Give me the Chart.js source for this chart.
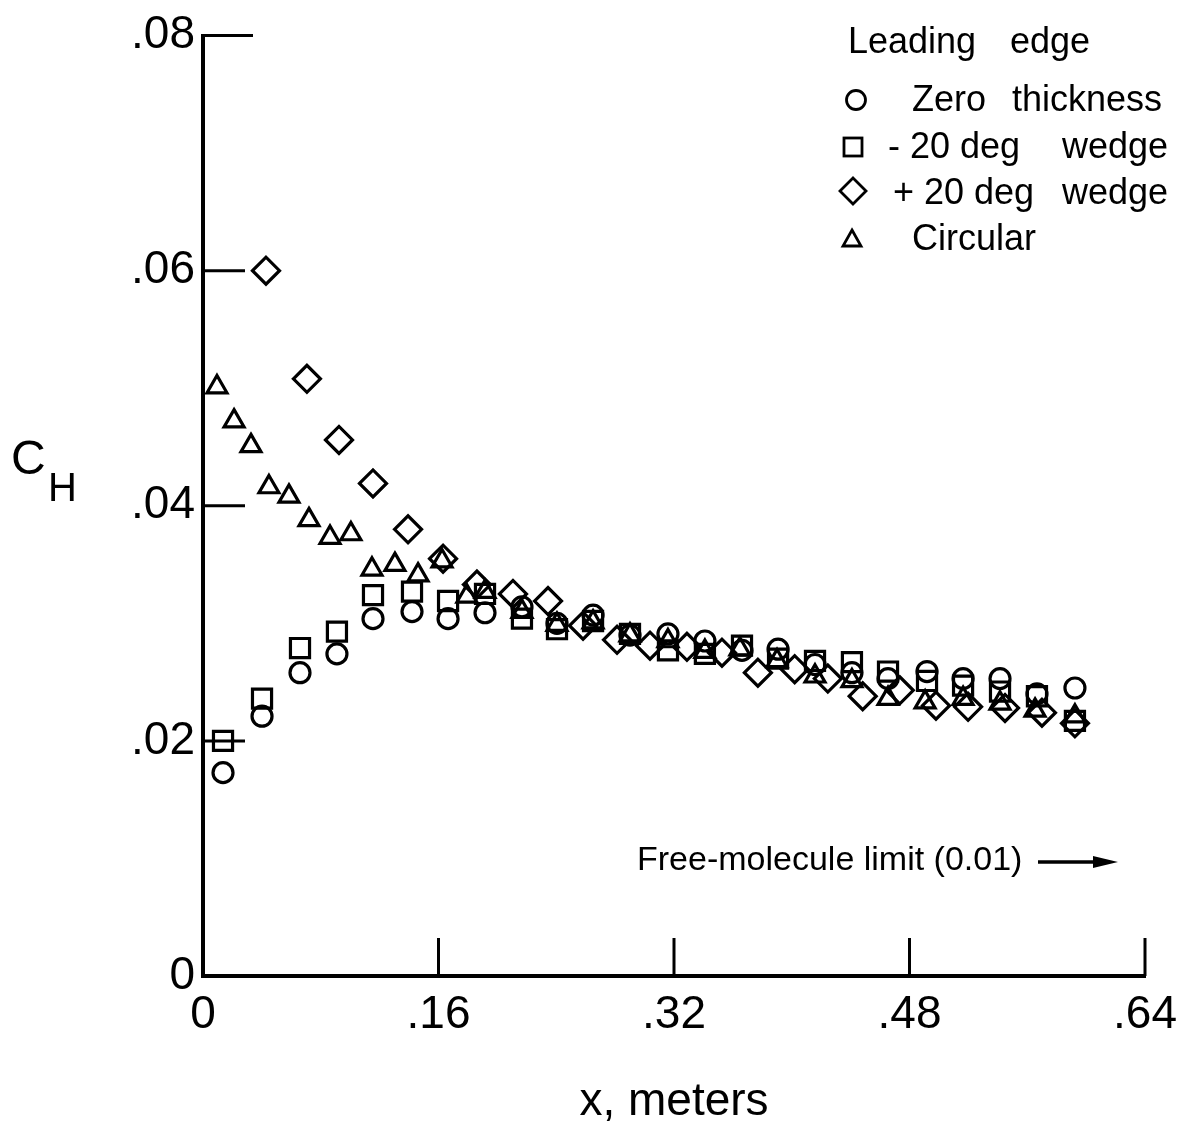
<!DOCTYPE html>
<html>
<head>
<meta charset="utf-8">
<script src="https://cdn.jsdelivr.net/npm/chart.js@4/dist/chart.umd.min.js"></script>
<style>
  html, body { margin: 0; padding: 0; background: #fff; }
  #c { display: block; }
</style>
</head>
<body>
<canvas id="c" width="1191" height="1129"></canvas>
<script>
// Axis ticks
const xTicks = [0, 0.16, 0.32, 0.48, 0.64];
const yTicks = [0, 0.02, 0.04, 0.06, 0.08];

// Legend
const legendTitle = ['Leading', 'edge'];
const seriesNames = ['Zero  thickness', '- 20 deg  wedge', '+ 20 deg  wedge', 'Circular'];

// Zero-thickness leading edge (circles)
const zeroX = [0.0136, 0.0401, 0.0659, 0.0910, 0.1155, 0.1420, 0.1665, 0.1916, 0.2167, 0.2405, 0.2650, 0.2901,
               0.3159, 0.3410, 0.3662, 0.3907, 0.4158, 0.4409, 0.4654, 0.4919, 0.5164, 0.5415, 0.5666, 0.5924];
const zeroY = [0.0173, 0.0221, 0.0258, 0.0274, 0.0304, 0.0310, 0.0304, 0.0309, 0.0314, 0.0300, 0.0307, 0.0290,
               0.0291, 0.0285, 0.0277, 0.0278, 0.0265, 0.0258, 0.0253, 0.0259, 0.0253, 0.0253, 0.0240, 0.0245];

// -20 deg wedge (squares)
const minusX = zeroX;
const minusY = [0.0200, 0.0236, 0.0279, 0.0293, 0.0324, 0.0327, 0.0319, 0.0325, 0.0304, 0.0295, 0.0302, 0.0291,
                0.0277, 0.0274, 0.0281, 0.0270, 0.0268, 0.0267, 0.0259, 0.0251, 0.0247, 0.0242, 0.0238, 0.0217];

// +20 deg wedge (diamonds)
const plusX = [0.0428, 0.0706, 0.0924, 0.1155, 0.1393, 0.1631, 0.1861, 0.2106, 0.2344, 0.2582, 0.2813, 0.3037,
               0.3288, 0.3526, 0.3770, 0.4020, 0.4245, 0.4482, 0.4734, 0.4980, 0.5198, 0.5449, 0.5700, 0.5924];
const plusY = [0.0600, 0.0508, 0.0456, 0.0419, 0.0380, 0.0355, 0.0333, 0.0325, 0.0319, 0.0298, 0.0286, 0.0281,
               0.0280, 0.0275, 0.0258, 0.0261, 0.0253, 0.0238, 0.0243, 0.0230, 0.0229, 0.0228, 0.0224, 0.0215];

// Circular leading edge (triangles)
const circX = [0.0095, 0.0211, 0.0326, 0.0448, 0.0584, 0.0720, 0.0863, 0.1005, 0.1148, 0.1304, 0.1461, 0.1624,
               0.1793, 0.1916, 0.2167, 0.2405, 0.2650, 0.2901, 0.3159, 0.3410, 0.3648, 0.3900, 0.4158, 0.4409,
               0.4654, 0.4906, 0.5164, 0.5415, 0.5653, 0.5924];
const circY = [0.0501, 0.0472, 0.0451, 0.0416, 0.0408, 0.0388, 0.0373, 0.0376, 0.0346, 0.0350, 0.0341, 0.0353,
               0.0323, 0.0327, 0.0310, 0.0299, 0.0301, 0.0290, 0.0285, 0.0276, 0.0278, 0.0268, 0.0255, 0.0251,
               0.0236, 0.0233, 0.0236, 0.0232, 0.0226, 0.0221];

const FONT = "'Liberation Sans', Arial, Helvetica, sans-serif";
const INK = '#000';

const pts = (xs, ys) => xs.map((x, i) => ({ x, y: ys[i] }));

function tickText(v) {
  if (Math.abs(v) < 1e-9) return '0';
  return v.toFixed(2).replace(/^0/, '');
}

// Inward tick marks, axis titles, legend and the free-molecule note
const decorations = {
  id: 'decorations',
  afterDraw(chart) {
    const ctx = chart.ctx;
    const xs = chart.scales.x, ys = chart.scales.y;
    const area = chart.chartArea;
    ctx.save();
    ctx.strokeStyle = INK;
    ctx.fillStyle = INK;
    ctx.lineCap = 'butt';

    // inward ticks
    ctx.lineWidth = 3;
    yTicks.forEach(v => {
      if (v === 0) return;
      const py = ys.getPixelForValue(v);
      const len = v === 0.08 ? 50 : 42;
      ctx.beginPath(); ctx.moveTo(area.left, py); ctx.lineTo(area.left + len, py); ctx.stroke();
    });
    xTicks.forEach(v => {
      if (v === 0) return;
      const px = xs.getPixelForValue(v);
      ctx.beginPath(); ctx.moveTo(px, area.bottom); ctx.lineTo(px, area.bottom - 38); ctx.stroke();
    });

    // axis titles
    ctx.textBaseline = 'middle';
    ctx.textAlign = 'center';
    ctx.font = `46px ${FONT}`;
    ctx.fillText('x, meters', (area.left + area.right) / 2, 1102);
    ctx.textAlign = 'left';
    ctx.font = `48px ${FONT}`;
    ctx.fillText('C', 11, 461);
    ctx.font = `40px ${FONT}`;
    ctx.fillText('H', 48, 490);

    // legend
    ctx.font = `36px ${FONT}`;
    ctx.textAlign = 'left';
    ctx.fillText(legendTitle[0], 848, 43);
    ctx.textAlign = 'right';
    ctx.fillText(legendTitle[1], 1090, 43);
    const rows = [101, 148, 194, 240];
    const parts = seriesNames.map(s => s.split('  '));
    const starts = [912, 888, 893, 912];
    rows.forEach((ry, i) => {
      ctx.textAlign = 'left';
      ctx.fillText(parts[i][0], starts[i], ry);
      if (parts[i][1]) {
        ctx.textAlign = 'right';
        ctx.fillText(parts[i][1], i === 0 ? 1162 : 1168, ry);
      }
    });
    ctx.lineWidth = 2.8;
    // circle
    ctx.beginPath(); ctx.arc(856, 100, 9.5, 0, Math.PI * 2); ctx.stroke();
    // square
    ctx.strokeRect(844, 138, 18, 18);
    // diamond
    ctx.beginPath();
    ctx.moveTo(853, 178); ctx.lineTo(866, 191); ctx.lineTo(853, 204); ctx.lineTo(840, 191); ctx.closePath();
    ctx.stroke();
    // triangle
    ctx.beginPath();
    ctx.moveTo(852, 230); ctx.lineTo(861, 246); ctx.lineTo(843, 246); ctx.closePath(); ctx.stroke();

    // free-molecule note
    ctx.font = `34px ${FONT}`;
    ctx.textAlign = 'left';
    ctx.fillText('Free-molecule limit (0.01)', 637, 861);
    ctx.lineWidth = 3.5;
    ctx.beginPath(); ctx.moveTo(1038, 862); ctx.lineTo(1098, 862); ctx.stroke();
    ctx.beginPath();
    ctx.moveTo(1118, 862); ctx.lineTo(1093, 856); ctx.lineTo(1093, 868); ctx.closePath(); ctx.fill();

    ctx.restore();
  }
};

const marker = (label, data, style, radius) => ({
  label, data,
  pointStyle: style,
  pointRadius: radius,
  pointHoverRadius: radius,
  pointBorderWidth: 3.2,
  pointBorderColor: INK,
  pointBackgroundColor: 'rgba(0,0,0,0)',
  showLine: false
});

new Chart(document.getElementById('c'), {
  type: 'scatter',
  data: {
    datasets: [
      marker(seriesNames[0], pts(zeroX, zeroY), 'circle', 10),
      marker(seriesNames[1], pts(minusX, minusY), 'rect', 13.5),
      marker(seriesNames[2], pts(plusX, plusY), 'rectRot', 13.5),
      marker(seriesNames[3], pts(circX, circY), 'triangle', 11.5)
    ]
  },
  options: {
    responsive: false,
    animation: false,
    devicePixelRatio: 1,
    layout: { padding: { left: 0, right: 46, top: 32, bottom: 0 }, autoPadding: false },
    plugins: { legend: { display: false }, tooltip: { enabled: false } },
    scales: {
      x: {
        type: 'linear', min: 0, max: 0.64,
        afterBuildTicks: s => { s.ticks = xTicks.map(v => ({ value: v })); },
        afterFit: s => { s.height = 1129 - 976; },
        ticks: { callback: tickText, color: INK, font: { family: FONT, size: 46 }, padding: 12, maxRotation: 0, autoSkip: false },
        grid: { display: false, drawTicks: false },
        border: { display: true, color: INK, width: 4 }
      },
      y: {
        type: 'linear', min: 0, max: 0.08,
        afterBuildTicks: s => { s.ticks = yTicks.map(v => ({ value: v })); },
        afterFit: s => { s.width = 203; },
        ticks: { callback: tickText, color: INK, font: { family: FONT, size: 46 }, padding: 8, autoSkip: false },
        grid: { display: false, drawTicks: false },
        border: { display: true, color: INK, width: 4 }
      }
    }
  },
  plugins: [decorations]
});
</script>
</body>
</html>
